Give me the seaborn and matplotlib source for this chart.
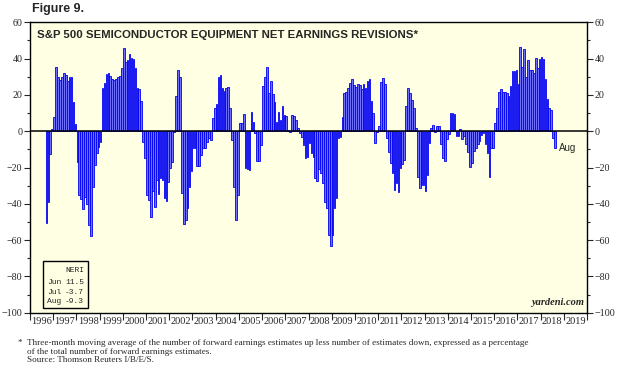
import numpy as np
import pandas as pd
import matplotlib
matplotlib.use('Agg')
import matplotlib.pyplot as plt
from matplotlib.patches import Rectangle
import seaborn as sns

# monthly net earnings revisions (%), first bar is Sep 1996, last is Aug 2018
first_month = '1996-09'
neri_1996 = [-50.7, -38.8, -12.7, 1.0]
neri_1997 = [7.7, 35.3, 29.6, 28.0, 30.0, 32.0, 30.7, 27.7, 29.6, 29.6, 16.3, 3.9]
neri_1998 = [-17.0, -35.0, -37.5, -43.0, -36.0, -40.0, -51.6, -58.0, -31.0, -18.6, -12.0, -8.5]
neri_1999 = [-6.0, 23.7, 26.4, 31.4, 32.0, 30.5, 29.0, 28.3, 28.6, 29.6, 30.5, 34.7]
neri_2000 = [45.7, 38.4, 39.3, 42.4, 40.2, 40.0, 34.7, 24.0, 23.3, 16.7, -6.0, -15.0]
neri_2001 = [-35.0, -38.0, -47.0, -33.0, -41.5, -27.0, -34.5, -26.0, -27.0, -37.0, -38.4, -28.0]
neri_2002 = [-20.0, -17.0, -0.5, 19.5, 33.8, 30.0, -34.0, -51.0, -49.0, -42.4, -30.5, -21.7]
neri_2003 = [-9.0, -9.4, -19.0, -19.0, -13.0, -9.4, -9.0, -5.7, -3.5, -4.8, 7.2, 13.0]
neri_2004 = [14.9, 30.0, 31.0, 24.0, 22.2, 24.0, 24.6, 12.7, -4.8, -30.5, -48.9, -35.0]
neri_2005 = [4.4, 4.4, 9.4, -20.4, -20.8, -21.3, 10.5, 5.0, -1.0, -16.3, -16.3, -7.5]
neri_2006 = [25.0, 30.0, 35.3, 21.0, 27.7, 20.4, 16.0, 5.0, 10.5, 6.2, 14.1, 9.0]
neri_2007 = [8.3, 0.7, -0.7, 9.0, 8.6, 6.2, 1.6, -1.1, -3.0, -7.5, -15.0, -14.0]
neri_2008 = [-6.6, -12.0, -14.0, -26.0, -27.7, -20.8, -23.0, -28.7, -38.8, -42.4, -57.0, -63.0]
neri_2009 = [-57.0, -42.4, -37.0, -3.5, -3.0, 8.0, 21.0, 21.5, 24.0, 26.4, 28.6, 25.5]
neri_2010 = [24.6, 25.9, 25.5, 23.3, 25.9, 24.0, 27.7, 28.8, 16.7, 9.9, -6.6, -0.5]
neri_2011 = [3.1, 27.0, 29.2, 25.9, -3.9, -11.2, -17.6, -23.0, -32.3, -28.7, -33.6, -20.4]
neri_2012 = [-18.0, -15.8, 14.1, 24.0, 21.0, 17.3, 13.0, 2.0, -25.3, -31.4, -29.9, -29.6]
neri_2013 = [-32.9, -24.0, -6.6, 1.6, 3.5, -0.5, 2.9, 2.9, -7.2, -14.9, -16.3, -4.2]
neri_2014 = [-1.7, 9.9, 9.9, 9.4, -2.4, -2.4, 1.1, -4.4, -2.4, -7.2, -11.6, -19.5]
neri_2015 = [-17.6, -10.8, -9.0, -7.2, -5.3, -2.0, -1.1, -7.2, -12.1, -25.0, -9.4, -9.4]
neri_2016 = [4.4, 12.7, 21.5, 23.1, 21.5, 21.5, 20.9, 19.5, 25.0, 32.9, 32.9, 33.6]
neri_2017 = [25.9, 46.3, 35.6, 45.2, 30.0, 39.3, 33.8, 33.8, 32.0, 40.2, 34.7, 40.0]
neri_2018 = [41.0, 40.0, 29.0, 18.0, 13.0, 11.5, -3.7, -9.3]

years = list(range(1996, 2020))
last_months = ['Jun', 'Jul', 'Aug']

vals = (neri_1996 + neri_1997 + neri_1998 + neri_1999 + neri_2000 + neri_2001 +
        neri_2002 + neri_2003 + neri_2004 + neri_2005 + neri_2006 + neri_2007 +
        neri_2008 + neri_2009 + neri_2010 + neri_2011 + neri_2012 + neri_2013 +
        neri_2014 + neri_2015 + neri_2016 + neri_2017 + neri_2018)
months = pd.date_range(first_month, periods=len(vals), freq='MS')
pos = (months.year - years[0]) * 12 + months.month - 1 + 0.5
df = pd.DataFrame({'pos': pos, 'neri': vals})

sns.set_style('ticks')
plt.rcParams['font.family'] = ['Liberation Serif', 'DejaVu Serif']

W, H = 629, 380
fig = plt.figure(figsize=(W / 100, H / 100), dpi=100)
ax = fig.add_axes([30 / W, 1 - 312.7 / H, 557 / W, 290.4 / H])
ax.set_facecolor('#ffffe3')

sns.barplot(data=df, x='pos', y='neri', native_scale=True, width=0.85,
            color='#7070ff', saturation=1, edgecolor='#0000f0', linewidth=0.6,
            errorbar=None, ax=ax)
ax.axhline(0, color='black', lw=1.1, zorder=3)

ax.set_xlim(0, len(years) * 12)
ax.set_ylim(-100, 60)
ax.set_xlabel('')
ax.set_ylabel('')

ax.set_xticks(np.arange(0, len(years) * 12 + 1, 12))
ax.set_xticklabels([])
ax.set_xticks(np.arange(6, len(years) * 12, 12), minor=True)
ax.set_xticklabels([str(y) for y in years], minor=True)
ax.tick_params(axis='x', which='major', length=5, width=0.8, direction='out')
ax.tick_params(axis='x', which='minor', length=0, labelsize=7.5, pad=3)

ax.set_yticks(range(-100, 61, 20))
ax.set_yticks(range(-100, 61, 10), minor=True)
ax.tick_params(axis='y', which='both', left=True, right=True,
               labelleft=True, labelright=True, direction='out', labelsize=7.2, width=0.8)
ax.tick_params(axis='y', which='major', length=4, pad=1.5)
ax.tick_params(axis='y', which='minor', length=2)
for s in ax.spines.values():
    s.set_visible(True)
    s.set_color('black')
    s.set_linewidth(1.0)

# titles
fig.text(32 / W, 1 - 9 / H, 'Figure 9.', fontsize=9, weight='bold',
         family='Liberation Sans', va='center', ha='left')
ax.text(0.012, 0.973, 'S&P 500 SEMICONDUCTOR EQUIPMENT NET EARNINGS REVISIONS*',
        transform=ax.transAxes, fontsize=8.2, weight='bold', family='Liberation Sans',
        va='top', ha='left')

ax.text(pos[-1] + 1.8, vals[-1], 'Aug', fontsize=7, family='Liberation Sans',
        va='center', ha='left')
ax.text(0.995, 0.018, 'yardeni.com', transform=ax.transAxes, fontsize=7.5,
        style='italic', weight='bold', ha='right', va='bottom')

# NERI box
box = Rectangle((43 / W, 1 - 308 / H), 45 / W, 47 / H, transform=fig.transFigure,
                fill=False, edgecolor='black', lw=1.0)
fig.patches.append(box)
fig.text(84 / W, 1 - 270 / H, 'NERI', fontsize=5.8, family='Liberation Mono',
         ha='right', va='center')
for k, (m, v) in enumerate(zip(last_months, vals[-3:])):
    yy = 283 + k * 9.3
    fig.text(47 / W, 1 - yy / H, m, fontsize=5.8, family='Liberation Mono',
             ha='left', va='center')
    fig.text(84 / W, 1 - yy / H, f'{v:.1f}', fontsize=5.8, family='Liberation Mono',
             ha='right', va='center')

# footnote
fig.text(18 / W, 1 - 343 / H, '*', fontsize=6.6, va='center', ha='left')
fig.text(27 / W, 1 - 343 / H,
         'Three-month moving average of the number of forward earnings estimates up less '
         'number of estimates down, expressed as a percentage',
         fontsize=6.6, va='center', ha='left')
fig.text(27 / W, 1 - 351.5 / H, 'of the total number of forward earnings estimates.',
         fontsize=6.6, va='center', ha='left')
fig.text(27 / W, 1 - 359.5 / H, 'Source: Thomson Reuters I/B/E/S.',
         fontsize=6.6, va='center', ha='left')

fig.savefig('out.png', dpi=100)
